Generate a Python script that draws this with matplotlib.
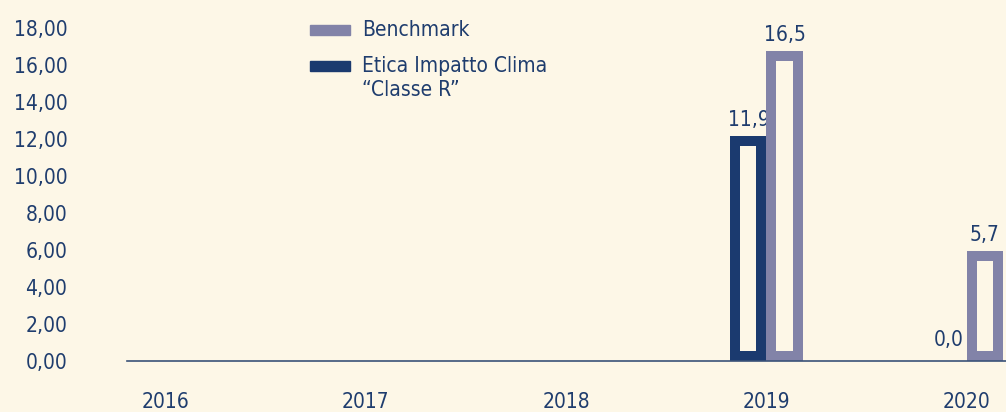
import matplotlib
matplotlib.use("Agg")
import matplotlib.pyplot as plt
from matplotlib.patches import Rectangle
from matplotlib import font_manager

# data
years = ["2016", "2017", "2018", "2019", "2020"]
etica = [None, None, None, 11.9, 0.0]
benchmark = [None, None, None, 16.5, 5.7]
ytick_values = [0, 2, 4, 6, 8, 10, 12, 14, 16, 18]
legend_labels = ["Benchmark", "Etica Impatto Clima", "\u201cClasse R\u201d"]

bg = "#fdf7e7"
navy = "#1b3a6f"
lilac = "#8283a8"
text_col = "#1f3d6e"

names = {f.name for f in font_manager.fontManager.ttflist}
if "Liberation Sans Narrow" in names:
    plt.rcParams["font.family"] = ["Liberation Sans Narrow", "DejaVu Sans"]
else:
    plt.rcParams["font.family"] = ["DejaVu Sans"]
    plt.rcParams["font.stretch"] = "condensed"

W, H = 1006, 412
fig = plt.figure(figsize=(W / 100, H / 100), dpi=100, facecolor=bg)
ax = fig.add_axes([127 / W, 51 / H, 879 / W, 333 / H])
ax.set_facecolor(bg)

def fmt(v, nd):
    return f"{v:.{nd}f}".replace(".", ",")

bar_w = 0.13
off = 0.09
lw = 7.2
pad = 0.27  # lift so the thick bottom edge sits on the axis line

for i, (e, b) in enumerate(zip(etica, benchmark)):
    for val, dx, col in ((e, -off, navy), (b, off, lilac)):
        if val is None:
            continue
        if val > 0:
            ax.bar(i + dx, val - pad, bottom=pad, width=bar_w, facecolor=bg,
                   edgecolor=col, linewidth=lw, joinstyle="miter", zorder=3)
        ax.annotate(fmt(val, 1), (i + dx, val), xytext=(0, 15),
                    textcoords="offset points", ha="center", va="center",
                    fontsize=15, color=text_col)

ax.set_xlim(-0.19, 4.195)
ax.set_ylim(0, 18)
ax.set_xticks(range(len(years)))
ax.set_xticklabels(years)
ax.set_yticks(ytick_values)
ax.set_yticklabels([fmt(v, 2) for v in ytick_values])
ax.tick_params(axis="x", length=0, pad=22, labelsize=15, labelcolor=text_col)
ax.tick_params(axis="y", length=0, pad=43, labelsize=15, labelcolor=text_col)

for s in ["top", "right", "left"]:
    ax.spines[s].set_visible(False)
ax.spines["bottom"].set_color("#3a5278")
ax.spines["bottom"].set_linewidth(1.2)
ax.spines["bottom"].set_zorder(4)

# legend, drawn by hand so the swatch lines up with the first text line
for col, top in ((lilac, 25), (navy, 61)):
    fig.patches.append(Rectangle((310 / W, 1 - (top + 10) / H), 40 / W, 10 / H,
                                 transform=fig.transFigure, color=col))
for lab, base in zip(legend_labels, (36, 72, 96)):
    fig.text(362 / W, 1 - base / H, lab, fontsize=15, color=text_col,
             ha="left", va="baseline")

fig.savefig("out.png", dpi=100, facecolor=bg)
